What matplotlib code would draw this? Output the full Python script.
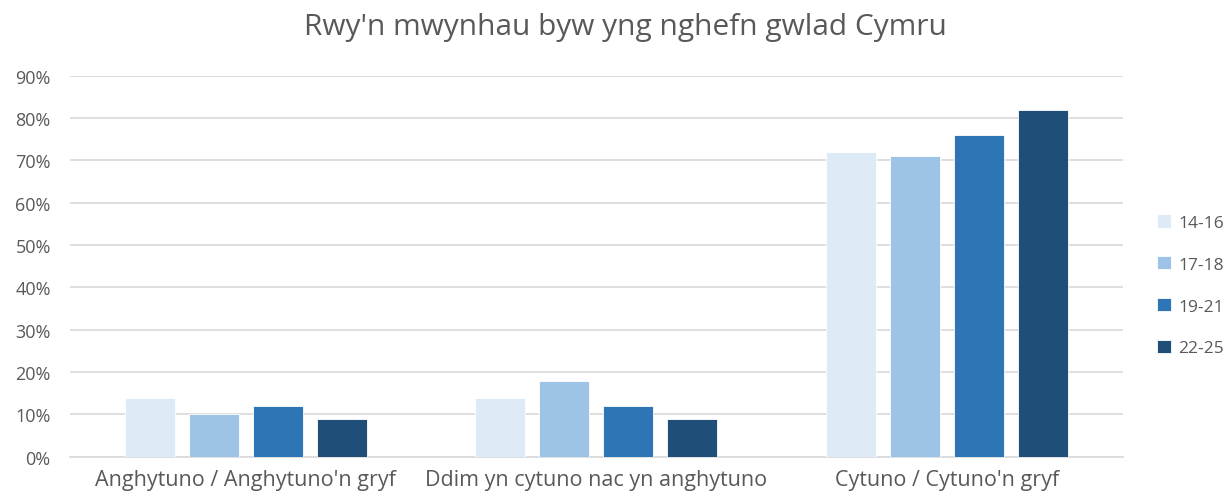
import numpy as np
import matplotlib.pyplot as plt
from matplotlib.ticker import PercentFormatter

plt.rcParams['font.family'] = ['Open Sans', 'DejaVu Sans']

categories = ["Anghytuno / Anghytuno'n gryf",
              "Ddim yn cytuno nac yn anghytuno",
              "Cytuno / Cytuno'n gryf"]
age_groups = ['14-16', '17-18', '19-21', '22-25']
v_14_16 = [14, 14, 72]
v_17_18 = [10, 18, 71]
v_19_21 = [12, 12, 76]
v_22_25 = [9, 9, 82]
colors = ['#DEEBF7', '#9DC3E6', '#2E75B6', '#1F4E79']

series = [v_14_16, v_17_18, v_19_21, v_22_25]
grey = '#595959'

fig = plt.figure(figsize=(12.31, 5.02), dpi=100)
ax = fig.add_axes([0.057, 0.088, 0.855, 0.759])

x = np.arange(len(categories))
step = 0.1825
width = 0.1426
for i, (vals, lab, c) in enumerate(zip(series, age_groups, colors)):
    ax.bar(x + (i - 1.5) * step, vals, width, color=c, label=lab,
           edgecolor='white', linewidth=0.6, zorder=3)

ax.set_xlim(-0.5, 2.5)
ax.set_ylim(0, 90)
ax.set_yticks(np.arange(0, 91, 10))
ax.yaxis.set_major_formatter(PercentFormatter(decimals=0))
ax.set_xticks(x)
ax.set_xticklabels(categories)
ax.grid(axis='y', color='#D9D9D9', linewidth=1.2, zorder=0)
for s in ['top', 'right', 'left']:
    ax.spines[s].set_visible(False)
ax.spines['bottom'].set_color('#D9D9D9')
ax.spines['bottom'].set_linewidth(1.2)
ax.tick_params(axis='both', length=0, labelcolor=grey, labelsize=13)
ax.tick_params(axis='x', labelsize=15.5, pad=9)
ax.tick_params(axis='y', pad=14)

fig.suptitle("Rwy'n mwynhau byw yng nghefn gwlad Cymru", fontsize=21.5,
             color=grey, x=0.508, y=0.975, va='top')

leg = ax.legend(loc='center left', bbox_to_anchor=(1.018, 0.45), frameon=False,
                fontsize=12.5, labelspacing=1.45, handlelength=0.8,
                handleheight=0.8, handletextpad=0.4)
for t in leg.get_texts():
    t.set_color(grey)

fig.savefig('out.png', dpi=100)
